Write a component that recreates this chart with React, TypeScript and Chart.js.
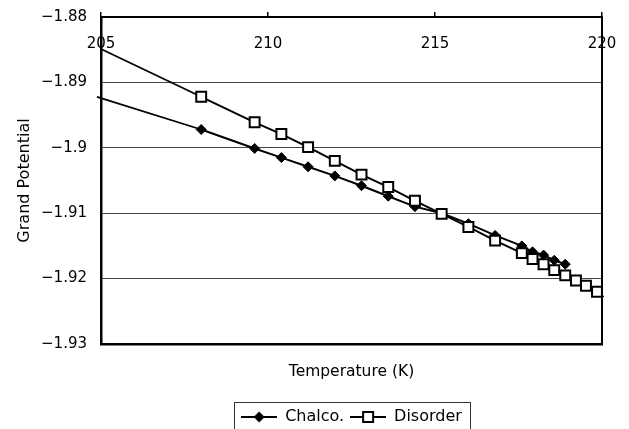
import React, { useEffect, useRef } from 'react';
import { Chart, registerables } from 'chart.js';

Chart.register(...registerables);

// ---- data ----
const chalcoT = [208.0, 209.6, 210.4, 211.2, 212.0, 212.8, 213.6, 214.4, 215.2, 216.0, 216.8, 217.6, 217.92, 218.25, 218.57, 218.9];
const chalcoV = [-1.8972, -1.9001, -1.9015, -1.9029, -1.9043, -1.9058, -1.9074, -1.909, -1.91, -1.9116, -1.9134, -1.915, -1.9159, -1.9164, -1.9172, -1.9178];

const disorderT = [208.0, 209.6, 210.4, 211.2, 212.0, 212.8, 213.6, 214.4, 215.2, 216.0, 216.8, 217.6, 217.92, 218.25, 218.57, 218.9, 219.22, 219.52, 219.85];
const disorderV = [-1.8922, -1.8961, -1.8979, -1.8999, -1.902, -1.9041, -1.906, -1.9081, -1.9101, -1.9121, -1.9142, -1.9161, -1.917, -1.9178, -1.9187, -1.9195, -1.9203, -1.9211, -1.922];

// trend-line extensions drawn without markers
const chalcoFitT = [204.88, 208.0];
const chalcoFitV = [-1.8922, -1.8972];
const disorderFitT = [205.0, 208.0];
const disorderFitV = [-1.8849, -1.8922];
const disorderTailT = [219.85, 220.05];
const disorderTailV = [-1.922, -1.9228];

const xTicks = [205, 210, 215, 220];
const yTicks = [-1.88, -1.89, -1.9, -1.91, -1.92, -1.93];
const yTickLabels = ['\u22121.88', '\u22121.89', '\u22121.9', '\u22121.91', '\u22121.92', '\u22121.93'];

const seriesNames = ['Chalco.', 'Disorder'];
const xTitle = 'Temperature (K)';
const yTitle = 'Grand Potential';

const FONT = "'DejaVu Sans', 'Liberation Sans', sans-serif";

const pts = (xs: number[], ys: number[]) => xs.map((x, i) => ({ x, y: ys[i] }));

const legendFrame = {
  id: 'legendFrame',
  afterDraw(chart: any) {
    const lg = chart.legend;
    if (!lg || !lg.legendHitBoxes || !lg.legendHitBoxes.length) return;
    let l = Infinity, r = -Infinity, t = Infinity;
    lg.legendHitBoxes.forEach((b: any) => {
      l = Math.min(l, b.left);
      r = Math.max(r, b.left + b.width);
      t = Math.min(t, b.top);
    });
    const ctx = chart.ctx;
    ctx.save();
    ctx.strokeStyle = '#333';
    ctx.lineWidth = 1;
    ctx.strokeRect(Math.round(l - 7) + 0.5, Math.round(t - 7) + 0.5, Math.round(r - l + 15), chart.height);
    ctx.restore();
  },
};

function makeIcon(kind: 'diamond' | 'square'): HTMLCanvasElement {
  const c = document.createElement('canvas');
  c.width = 36;
  c.height = 14;
  const g = c.getContext('2d')!;
  g.strokeStyle = '#000';
  g.lineWidth = 2;
  g.beginPath();
  g.moveTo(0, 7);
  g.lineTo(36, 7);
  g.stroke();
  if (kind === 'diamond') {
    g.fillStyle = '#000';
    g.beginPath();
    g.moveTo(18, 1.5);
    g.lineTo(23.5, 7);
    g.lineTo(18, 12.5);
    g.lineTo(12.5, 7);
    g.closePath();
    g.fill();
  } else {
    g.fillStyle = '#fff';
    g.fillRect(13, 2, 10, 10);
    g.lineWidth = 2;
    g.strokeRect(13, 2, 10, 10);
  }
  return c;
}

export default function App() {
  const ref = useRef<HTMLCanvasElement>(null);

  useEffect(() => {
    const canvas = ref.current;
    if (!canvas) return;
    const iconC = makeIcon('diamond');
    const iconD = makeIcon('square');
    const setXTicks = (s: any) => {
      s.ticks = xTicks.map((v) => ({ value: v }));
    };
    const setYTicks = (s: any) => {
      s.ticks = yTicks.map((v) => ({ value: v }));
    };

    const chart = new Chart(canvas, {
      type: 'line',
      data: {
        datasets: [
          {
            label: seriesNames[0],
            data: pts(chalcoT, chalcoV),
            borderColor: '#000',
            borderWidth: 2,
            pointStyle: 'rectRot',
            pointRadius: 5,
            pointBackgroundColor: '#000',
            pointBorderColor: '#000',
            pointBorderWidth: 1,
            tension: 0,
            order: 1,
          },
          {
            label: seriesNames[1],
            data: pts(disorderT, disorderV),
            borderColor: '#000',
            borderWidth: 2,
            pointStyle: 'rect',
            pointRadius: 7,
            pointBackgroundColor: '#fff',
            pointBorderColor: '#000',
            pointBorderWidth: 2,
            tension: 0,
            order: 0,
          },
          {
            label: 'chalco-fit',
            data: pts(chalcoFitT, chalcoFitV),
            borderColor: '#000',
            borderWidth: 1.8,
            pointRadius: 0,
            clip: false,
            order: 2,
          },
          {
            label: 'disorder-fit',
            data: pts(disorderFitT, disorderFitV),
            borderColor: '#000',
            borderWidth: 1.8,
            pointRadius: 0,
            clip: false,
            order: 2,
          },
          {
            label: 'disorder-tail',
            data: pts(disorderTailT, disorderTailV),
            borderColor: '#000',
            borderWidth: 1.8,
            pointRadius: 0,
            clip: false,
            order: 2,
          },
        ],
      },
      options: {
        responsive: false,
        animation: false,
        events: [],
        layout: { padding: { left: 0, right: 27, top: 12, bottom: -6 } },
        plugins: {
          tooltip: { enabled: false },
          legend: {
            position: 'bottom',
            fullSize: false,
            labels: {
              usePointStyle: true,
              pointStyleWidth: 36,
              padding: 6,
              color: '#000',
              font: { family: FONT, size: 16 },
              generateLabels: () => [
                { text: seriesNames[0], pointStyle: iconC, fillStyle: '#000', strokeStyle: '#000', lineWidth: 0, hidden: false, datasetIndex: 0, fontColor: '#000' },
                { text: seriesNames[1], pointStyle: iconD, fillStyle: '#fff', strokeStyle: '#000', lineWidth: 0, hidden: false, datasetIndex: 1, fontColor: '#000' },
              ],
            },
          },
        },
        scales: {
          x: {
            type: 'linear',
            position: { y: -1.88 },
            min: 205,
            max: 220,
            afterBuildTicks: setXTicks,
            afterFit: (s: any) => {
              s.paddingLeft = 0;
              s.paddingRight = 0;
            },
            ticks: { color: '#000', font: { family: FONT, size: 15 }, padding: 18, maxRotation: 0, autoSkip: false },
            grid: { drawOnChartArea: false, drawTicks: false },
            border: { display: false },
          },
          x2: {
            type: 'linear',
            position: 'top',
            min: 205,
            max: 220,
            afterBuildTicks: setXTicks,
            ticks: { display: false },
            grid: { drawOnChartArea: false, drawTicks: true, tickLength: 5, color: '#000', lineWidth: 1.5 },
            border: { display: true, color: '#000', width: 2 },
          },
          xb: {
            type: 'linear',
            position: 'bottom',
            min: 205,
            max: 220,
            afterBuildTicks: setXTicks,
            ticks: { display: false },
            grid: { display: false, drawTicks: false },
            border: { display: true, color: '#000', width: 2.5 },
            title: {
              display: true,
              text: xTitle,
              color: '#000',
              font: { family: FONT, size: 15.5 },
              padding: { top: 0, bottom: 22 },
            },
            afterFit: (s: any) => {
              s.height = 59;
              s.paddingLeft = 0;
              s.paddingRight = 0;
            },
          },
          y: {
            type: 'linear',
            position: 'left',
            min: -1.93,
            max: -1.88,
            afterBuildTicks: setYTicks,
            afterFit: (s: any) => {
              s.width = 101;
              s.paddingTop = 0;
              s.paddingBottom = 0;
            },
            ticks: {
              color: '#000',
              font: { family: FONT, size: 15 },
              padding: 14,
              autoSkip: false,
              callback: (v: any) => {
                const i = yTicks.findIndex((t) => Math.abs(t - Number(v)) < 1e-9);
                return i >= 0 ? yTickLabels[i] : '';
              },
            },
            grid: { color: '#444', lineWidth: 1, drawTicks: false },
            border: { display: true, color: '#000', width: 2.5 },
            title: {
              display: true,
              text: yTitle,
              color: '#000',
              font: { family: FONT, size: 16 },
              padding: { top: 15, bottom: 0 },
            },
          },
          y2: {
            type: 'linear',
            position: 'right',
            min: -1.93,
            max: -1.88,
            ticks: { display: false },
            grid: { display: false, drawTicks: false },
            border: { display: true, color: '#000', width: 2 },
          },
        },
      } as any,
      plugins: [legendFrame],
    });

    return () => chart.destroy();
  }, []);

  return (
    <div style={{ position: 'fixed', left: 0, top: 0, width: 629, height: 429, background: '#fff' }}>
      <canvas ref={ref} width={629} height={429} style={{ display: 'block' }} />
    </div>
  );
}
